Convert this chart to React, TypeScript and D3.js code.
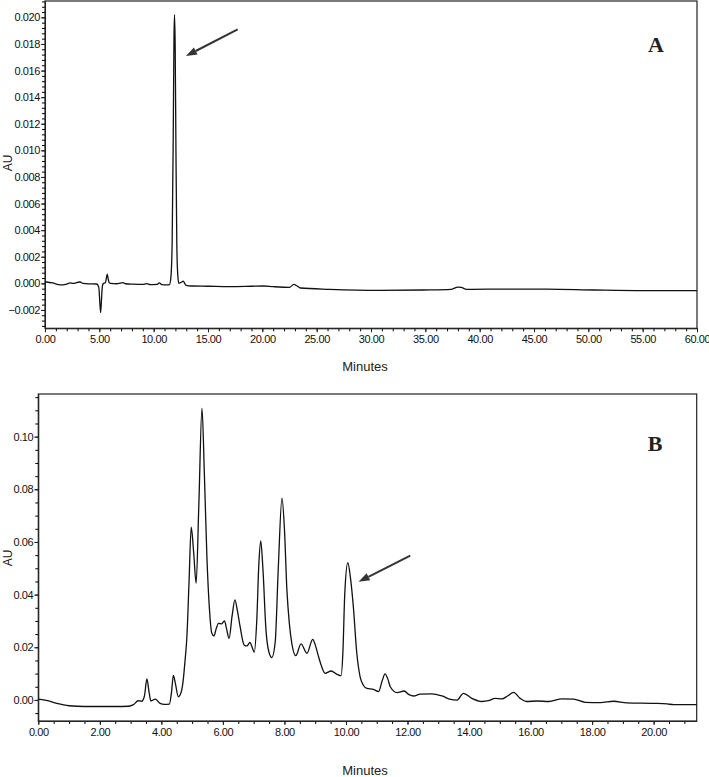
import React, { useEffect, useRef } from "react";
import * as d3 from "d3";

// Panel A: chromatogram, 0-60 min
const aTime = [
  0.0, 0.7, 1.4, 2.0, 2.3, 2.6, 3.0, 3.22, 3.5, 4.0, 4.75, 4.95, 5.05, 5.12, 5.2, 5.28,
  5.38, 5.55, 5.65, 5.73, 5.8, 5.9, 6.0, 6.6, 7.2, 7.4, 8.1, 9.0, 9.35, 9.7, 10.3, 10.52,
  10.75, 11.2, 11.45, 11.58, 11.7, 11.8, 11.87, 11.92, 11.98, 12.05, 12.13, 12.22, 12.32,
  12.45, 12.6, 12.73, 12.85, 13.0, 13.5, 15.0, 17.0, 19.0, 20.1, 21.0, 22.5, 22.9, 23.2,
  23.5, 26.2, 30.8, 34.8, 37.4, 38.0, 38.3, 38.8, 42.8, 46.2, 50.5, 55.1, 60.0,
];
const aAbs = [
  0.00012, 0.00003, -0.00012, -0.00005, 0.00003, 0.0, 0.00008, 0.0001, 0.0, -0.00004,
  -0.00005, -0.0003, -0.0015, -0.0022, -0.0012, -0.0002, 0.0, 0.00005, 0.0004, 0.0007,
  0.0004, 0.00005, 0.0, -0.00003, 0.00005, -0.00003, -0.00006, -0.00008, -0.00002, -0.0001,
  -0.00008, 0.00003, -0.0001, -0.00012, -0.0001, 0.0004, 0.003, 0.011, 0.0185, 0.0202,
  0.0178, 0.01, 0.003, 0.0006, 0.0, 0.00005, 0.0001, 0.00017, 0.0, -0.00015, -0.0002,
  -0.00022, -0.00025, -0.00022, -0.0002, -0.00025, -0.0003, -0.00008, -0.0002, -0.00035,
  -0.00045, -0.00053, -0.0005, -0.00045, -0.00028, -0.0003, -0.00045, -0.00043, -0.00043,
  -0.0005, -0.00055, -0.00055,
];
const aXTicks = [0, 5, 10, 15, 20, 25, 30, 35, 40, 45, 50, 55, 60];
const aYTicks = [-0.002, 0.0, 0.002, 0.004, 0.006, 0.008, 0.01, 0.012, 0.014, 0.016, 0.018, 0.02];

// Panel B: chromatogram, 0-21.4 min
const bTime = [
  0.0, 0.3, 0.6, 1.0, 1.5, 2.0, 2.5, 2.93, 3.09, 3.25, 3.36, 3.45, 3.53, 3.6, 3.66, 3.8,
  3.96, 4.1, 4.26, 4.33, 4.39, 4.46, 4.55, 4.63, 4.7, 4.77, 4.83, 4.9, 4.97, 5.05, 5.13,
  5.22, 5.32, 5.4, 5.48, 5.56, 5.64, 5.71, 5.78, 5.86, 5.96, 6.05, 6.12, 6.2, 6.3, 6.39,
  6.47, 6.56, 6.69, 6.78, 6.88, 6.95, 7.02, 7.1, 7.17, 7.23, 7.3, 7.4, 7.5, 7.59, 7.7, 7.8,
  7.92, 8.0, 8.08, 8.16, 8.24, 8.37, 8.54, 8.73, 8.92, 9.0, 9.11, 9.2, 9.32, 9.52, 9.7,
  9.84, 9.9, 9.96, 10.06, 10.15, 10.24, 10.35, 10.46, 10.57, 10.68, 10.89, 11.06, 11.17,
  11.27, 11.36, 11.44, 11.66, 11.89, 12.05, 12.2, 12.41, 12.79, 13.12, 13.4, 13.6, 13.82,
  14.09, 14.42, 14.63, 14.85, 15.07, 15.25, 15.45, 15.66, 15.86, 16.21, 16.59, 17.02, 17.4,
  17.78, 18.27, 18.7, 19.13, 20.0, 20.44, 20.65, 21.4,
];
const bAbs = [
  0.0003, -0.0003, -0.0013, -0.0022, -0.0025, -0.0025, -0.0025, -0.0024, -0.0018, -0.0003,
  -0.0005, 0.0015, 0.008, 0.003, -0.0004, 0.0003, -0.0013, -0.0017, -0.0016, 0.003, 0.0093,
  0.006, 0.0012, 0.0025, 0.0065, 0.015, 0.024, 0.045, 0.0656, 0.056, 0.0443, 0.075, 0.1108,
  0.085, 0.0544, 0.035, 0.0253, 0.0243, 0.027, 0.0291, 0.0289, 0.03, 0.027, 0.0234, 0.032,
  0.038, 0.034, 0.0278, 0.0209, 0.0205, 0.0219, 0.02, 0.0181, 0.03, 0.052, 0.0604, 0.05,
  0.0266, 0.018, 0.0161, 0.022, 0.05, 0.0766, 0.065, 0.0418, 0.029, 0.0215, 0.0168, 0.0213,
  0.0177, 0.023, 0.021, 0.0164, 0.013, 0.0101, 0.011, 0.0098, 0.0092, 0.018, 0.04, 0.0521,
  0.046, 0.0354, 0.018, 0.0088, 0.0055, 0.0044, 0.004, 0.0032, 0.007, 0.0099, 0.008, 0.005,
  0.0028, 0.0034, 0.002, 0.0015, 0.0022, 0.0023, 0.0015, 0.0002, -0.0001, 0.0025, 0.0006,
  -0.0006, -0.0003, 0.0006, 0.0004, 0.0015, 0.0029, 0.0006, -0.0006, -0.0004, -0.0006,
  0.0004, 0.0003, -0.0009, -0.001, -0.0005, -0.0011, -0.0013, -0.0015, -0.0018, -0.0018,
];
const bXTicks = [0, 2, 4, 6, 8, 10, 12, 14, 16, 18, 20];
const bYTicks = [0.0, 0.02, 0.04, 0.06, 0.08, 0.1];

const tickFont = "'Liberation Sans Narrow', 'Arial Narrow', 'Liberation Sans', Arial, sans-serif";
const labelFont = "'Liberation Sans', Arial, sans-serif";

function drawPanel(svg, p) {
  const x = d3.scaleLinear().domain(p.xDomain).range(p.xRange);
  const y = d3.scaleLinear().domain(p.yDomain).range(p.yRange);
  const g = svg.append("g");

  // frame
  g.append("rect")
    .attr("x", p.xRange[0])
    .attr("y", p.yRange[1])
    .attr("width", p.xRange[1] - p.xRange[0])
    .attr("height", p.yRange[0] - p.yRange[1])
    .attr("fill", "none")
    .attr("stroke", "#222")
    .attr("stroke-width", 1.2);

  // minor ticks
  g.append("g")
    .attr("transform", `translate(0,${p.yRange[0]})`)
    .call(d3.axisBottom(x).tickValues(p.xMinor).tickSize(3).tickSizeOuter(0).tickFormat(() => ""))
    .call(s => s.select(".domain").remove());
  g.append("g")
    .attr("transform", `translate(${p.xRange[0]},0)`)
    .call(d3.axisLeft(y).tickValues(p.yMinor).tickSize(3).tickSizeOuter(0).tickFormat(() => ""))
    .call(s => s.select(".domain").remove());

  // major axes
  const xAxis = g.append("g")
    .attr("transform", `translate(0,${p.yRange[0]})`)
    .call(d3.axisBottom(x).tickValues(p.xTicks).tickSize(4).tickPadding(3).tickSizeOuter(0).tickFormat(d3.format(".2f")));
  const yAxis = g.append("g")
    .attr("transform", `translate(${p.xRange[0]},0)`)
    .call(d3.axisLeft(y).tickValues(p.yTicks).tickSize(4).tickPadding(1).tickSizeOuter(0).tickFormat(p.yFmt));
  [xAxis, yAxis].forEach(a => {
    a.selectAll("text")
      .attr("font-family", tickFont)
      .attr("font-size", 11)
      .attr("letter-spacing", -0.4)
      .attr("fill", "#111");
    a.selectAll("line, path").attr("stroke", "#222");
  });
  xAxis.selectAll("text").attr("dy", "0.71em");

  // trace
  const pts = p.times.map((t, i) => [t, p.values[i]]);
  const line = d3.line()
    .x(d => x(d[0]))
    .y(d => y(d[1]))
    .curve(d3.curveMonotoneX);
  g.append("path")
    .datum(pts)
    .attr("fill", "none")
    .attr("stroke", "#111")
    .attr("stroke-width", 1.3)
    .attr("stroke-linejoin", "round")
    .attr("d", line);

  // arrow
  const [t0, v0, t1, v1] = p.arrow;
  const ax0 = x(t0), ay0 = y(v0), ax1 = x(t1), ay1 = y(v1);
  const ang = Math.atan2(ay1 - ay0, ax1 - ax0);
  const hl = 11, hw = 4;
  const bx = ax1 - hl * Math.cos(ang), by = ay1 - hl * Math.sin(ang);
  g.append("line")
    .attr("x1", ax0).attr("y1", ay0)
    .attr("x2", bx).attr("y2", by)
    .attr("stroke", "#333")
    .attr("stroke-width", 2);
  g.append("path")
    .attr("d", `M${ax1},${ay1}L${bx + hw * Math.sin(ang)},${by - hw * Math.cos(ang)}L${bx - hw * Math.sin(ang)},${by + hw * Math.cos(ang)}Z`)
    .attr("fill", "#333");

  // labels
  g.append("text")
    .attr("transform", `translate(${p.auX},${p.auY}) rotate(-90)`)
    .attr("text-anchor", "middle")
    .attr("font-family", labelFont)
    .attr("font-size", 12)
    .attr("fill", "#222")
    .text("AU");
  g.append("text")
    .attr("x", 365)
    .attr("y", p.minutesY)
    .attr("text-anchor", "middle")
    .attr("font-family", labelFont)
    .attr("font-size", 13)
    .attr("fill", "#222")
    .text("Minutes");
  g.append("text")
    .attr("x", p.letterX)
    .attr("y", p.letterY)
    .attr("text-anchor", "middle")
    .attr("font-family", "'Liberation Serif', 'Times New Roman', serif")
    .attr("font-weight", "bold")
    .attr("font-size", 22)
    .attr("fill", "#222")
    .text(p.letter);
}

export default function App() {
  const ref = useRef(null);
  useEffect(() => {
    const svg = d3.select(ref.current);
    svg.selectAll("*").remove();

    drawPanel(svg, {
      xDomain: [0, 60],
      xRange: [45, 697],
      yDomain: [-0.00338, 0.02123],
      yRange: [328.3, 1],
      xTicks: aXTicks,
      xMinor: d3.range(0, 61, 1),
      yTicks: aYTicks,
      yMinor: d3.range(-32, 213, 4).map(d => d / 10000),
      yFmt: d3.format(".3f"),
      times: aTime,
      values: aAbs,
      arrow: [17.73, 0.0191, 12.97, 0.01709],
      auX: 12,
      auY: 163,
      minutesY: 371,
      letter: "A",
      letterX: 656,
      letterY: 52,
    });

    drawPanel(svg, {
      xDomain: [0, 21.4],
      xRange: [38.3, 696.7],
      yDomain: [-0.008, 0.1162],
      yRange: [721, 394],
      xTicks: bXTicks,
      xMinor: d3.range(0, 21.5, 0.5),
      yTicks: bYTicks,
      yMinor: d3.range(-5, 116, 5).map(d => d / 1000),
      yFmt: d3.format(".2f"),
      times: bTime,
      values: bAbs,
      arrow: [12.09, 0.0548, 10.41, 0.0449],
      auX: 12,
      auY: 558,
      minutesY: 775,
      letter: "B",
      letterX: 655,
      letterY: 451,
    });
  }, []);

  return (
    <div style={{ position: "absolute", left: 0, top: 0 }}>
      <svg ref={ref} width={709} height={777} style={{ display: "block", background: "#fff" }} />
    </div>
  );
}
